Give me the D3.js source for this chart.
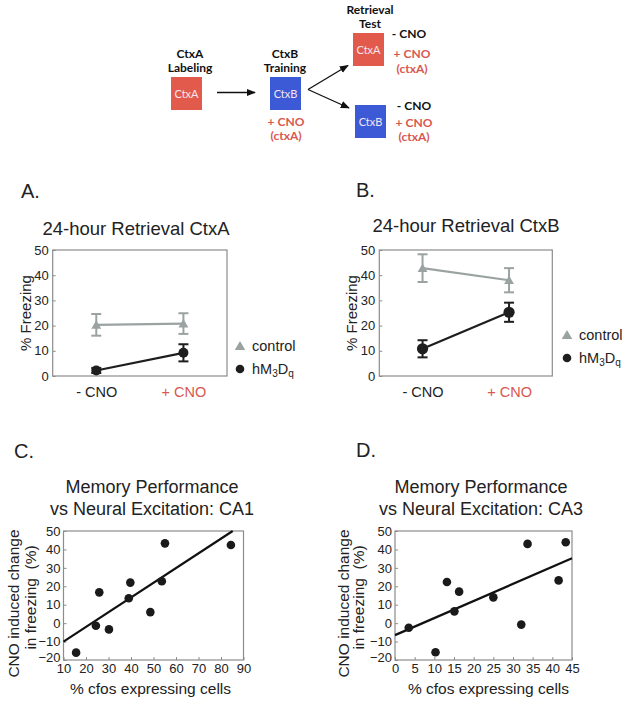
<!DOCTYPE html>
<html>
<head>
<meta charset="utf-8">
<script src="https://cdn.jsdelivr.net/npm/d3@7"></script>
<style>
  html, body { margin: 0; padding: 0; background: #fff; }
  svg { display: block; }
  text { font-family: "Liberation Sans", Arial, sans-serif; }
</style>
</head>
<body>
<svg id="fig" width="625" height="704"></svg>
<script>
// ---------------- DATA ----------------
const conditions = ["- CNO", "+ CNO"];
const freezeTicks = [0, 10, 20, 30, 40, 50];

const ctxAControl = [20.3, 20.8];
const ctxAControlErr = [4.3, 4.1];
const ctxAHm = [2.2, 9.2];
const ctxAHmErr = [1.0, 3.4];

const ctxBControl = [42.8, 38.0];
const ctxBControlErr = [5.5, 4.8];
const ctxBHm = [10.8, 25.3];
const ctxBHmErr = [3.4, 3.8];

const ca1Cfos = [15.6, 24.4, 25.9, 30.2, 39.0, 39.7, 48.6, 53.7, 55.1, 84.4];
const ca1Change = [-16.0, -1.4, 16.7, -3.4, 13.5, 22.0, 6.0, 22.7, 43.3, 42.4];
const ca1FitX = [10, 85.2];
const ca1FitY = [-10.0, 50.0];
const ca1XTicks = [10, 20, 30, 40, 50, 60, 70, 80, 90];

const ca3Cfos = [3.5, 10.3, 13.2, 15.1, 16.3, 25.0, 32.1, 33.7, 41.6, 43.4];
const ca3Change = [-2.5, -15.8, 22.3, 6.4, 17.1, 14.0, -0.8, 43.0, 23.2, 43.9];
const ca3FitX = [0, 45];
const ca3FitY = [-6.5, 35.2];
const ca3XTicks = [0, 5, 10, 15, 20, 25, 30, 35, 40, 45];

const changeTicks = [-20, -10, 0, 10, 20, 30, 40, 50];

// ---------------- STYLE ----------------
const RED = "#e25a4c";
const RED_TXT = "#d9574f";
const BLUE = "#3d5ad6";
const GRAY = "#9aa2a2";
const DARK = "#1e1e1e";
const BOX = "#8c8c8c";

const svg = d3.select("#fig");

// ---------------- SCHEMATIC ----------------
const defs = svg.append("defs");
defs.append("marker").attr("id", "arr").attr("viewBox", "0 0 10 10")
  .attr("refX", 9).attr("refY", 5).attr("markerWidth", 7).attr("markerHeight", 7)
  .attr("orient", "auto-start-reverse")
  .append("path").attr("d", "M0,1 L10,5 L0,9 z").attr("fill", "#111");

const sch = svg.append("g");
const schFont = "Lato, 'Liberation Sans', sans-serif";
function schText(x, y, str, color, bold, size) {
  sch.append("text").attr("x", x).attr("y", y).attr("text-anchor", "middle")
    .style("font-family", schFont)
    .attr("font-size", size || 12).attr("font-weight", bold ? "bold" : "normal")
    .attr("fill", color).text(str);
}
function schBox(x, y, w, h, fill, label) {
  sch.append("rect").attr("x", x).attr("y", y).attr("width", w).attr("height", h).attr("fill", fill);
  schText(x + w / 2, y + h / 2 + 4, label, "#f4e6ee", false, 11);
}
// step 1
schText(190, 58, "CtxA", "#111", true);
schText(190, 72, "Labeling", "#111", true);
schBox(171, 77, 31, 33, RED, "CtxA");
sch.append("line").attr("x1", 217).attr("y1", 92.5).attr("x2", 255).attr("y2", 92.5)
  .attr("stroke", "#111").attr("stroke-width", 1.3).attr("marker-end", "url(#arr)");
// step 2
schText(285, 58, "CtxB", "#111", true);
schText(285, 72, "Training", "#111", true);
schBox(270, 77, 31, 33, BLUE, "CtxB");
schText(286, 126, "+ CNO", RED_TXT, true);
schText(286, 140, "(ctxA)", RED_TXT, true);
sch.append("line").attr("x1", 308).attr("y1", 89.5).attr("x2", 348).attr("y2", 65.5)
  .attr("stroke", "#111").attr("stroke-width", 1.3).attr("marker-end", "url(#arr)");
sch.append("line").attr("x1", 308).attr("y1", 89.5).attr("x2", 349).attr("y2", 108)
  .attr("stroke", "#111").attr("stroke-width", 1.3).attr("marker-end", "url(#arr)");
// step 3
schText(370, 14, "Retrieval", "#111", true);
schText(370, 28, "Test", "#111", true);
schBox(353, 33, 31, 33, RED, "CtxA");
schText(409, 38, "- CNO", "#111", true);
schText(412, 58, "+ CNO", RED_TXT, true);
schText(412, 73, "(ctxA)", RED_TXT, true);
schBox(355, 105, 31, 33, BLUE, "CtxB");
schText(414, 110, "- CNO", "#111", true);
schText(414, 127, "+ CNO", RED_TXT, true);
schText(414, 141, "(ctxA)", RED_TXT, true);

// ---------------- PANEL HELPERS ----------------
function panelLetter(x, y, s) {
  svg.append("text").attr("x", x).attr("y", y).attr("font-size", 20).attr("fill", "#222").text(s);
}

function linePanel(cfg) {
  const g = svg.append("g");
  const x = d3.scalePoint().domain(conditions).range([cfg.x0, cfg.x1]).padding(0.5);
  const y = d3.scaleLinear().domain([0, 50]).range([cfg.yb, cfg.yt]);

  g.append("text").attr("x", cfg.titleX).attr("y", cfg.titleY).attr("text-anchor", "middle")
    .attr("font-size", 18.5).attr("fill", "#222").text(cfg.title);

  g.append("rect").attr("x", cfg.x0).attr("y", cfg.yt).attr("width", cfg.x1 - cfg.x0)
    .attr("height", cfg.yb - cfg.yt).attr("fill", "none").attr("stroke", BOX).attr("stroke-width", 1.2);

  const ya = g.append("g").attr("transform", `translate(${cfg.x0},0)`)
    .call(d3.axisLeft(y).tickValues(freezeTicks).tickSizeInner(-3).tickSizeOuter(0).tickPadding(4));
  ya.select(".domain").remove();
  ya.selectAll(".tick line").attr("stroke", BOX);
  ya.selectAll("text").attr("font-size", 13).attr("fill", "#222")
    .style("font-family", "'Liberation Sans', Arial, sans-serif");

  const xa = g.append("g").attr("transform", `translate(0,${cfg.yb})`)
    .call(d3.axisBottom(x).tickSize(0).tickPadding(11));
  xa.select(".domain").remove();
  xa.selectAll("text").attr("font-size", 14.5)
    .attr("fill", (d, i) => i === 0 ? "#222" : RED_TXT)
    .style("font-family", "'Liberation Sans', Arial, sans-serif");

  g.append("text").attr("transform", `translate(${cfg.ylabX},${(cfg.yt + cfg.yb) / 2}) rotate(-90)`)
    .attr("text-anchor", "middle").attr("font-size", 15).attr("fill", "#222").text("% Freezing");

  function series(vals, errs, color, kind) {
    const pts = conditions.map((c, i) => ({ c, v: vals[i], e: errs[i] }));
    g.append("path").datum(pts)
      .attr("d", d3.line().x(d => x(d.c)).y(d => y(d.v)))
      .attr("fill", "none").attr("stroke", color).attr("stroke-width", 2.2);
    const eb = g.append("g").attr("stroke", color).attr("stroke-width", 2);
    pts.forEach(d => {
      eb.append("line").attr("x1", x(d.c)).attr("x2", x(d.c)).attr("y1", y(d.v - d.e)).attr("y2", y(d.v + d.e));
      eb.append("line").attr("x1", x(d.c) - 5).attr("x2", x(d.c) + 5).attr("y1", y(d.v - d.e)).attr("y2", y(d.v - d.e));
      eb.append("line").attr("x1", x(d.c) - 5).attr("x2", x(d.c) + 5).attr("y1", y(d.v + d.e)).attr("y2", y(d.v + d.e));
    });
    pts.forEach(d => {
      if (kind === "tri") {
        g.append("path").attr("d", d3.symbol(d3.symbolTriangle, 42)())
          .attr("transform", `translate(${x(d.c)},${y(d.v) + 1})`).attr("fill", color);
      } else {
        g.append("circle").attr("cx", x(d.c)).attr("cy", y(d.v)).attr("r", cfg.r).attr("fill", color);
      }
    });
  }
  series(cfg.ctrl, cfg.ctrlErr, GRAY, "tri");
  series(cfg.hm, cfg.hmErr, DARK, "circ");

  // legend
  g.append("path").attr("d", d3.symbol(d3.symbolTriangle, 48)())
    .attr("transform", `translate(${cfg.legX},${cfg.legY + 1})`).attr("fill", GRAY);
  g.append("text").attr("x", cfg.legX + 12).attr("y", cfg.legY + 5).attr("font-size", 14.5)
    .attr("fill", "#222").text("control");
  g.append("circle").attr("cx", cfg.legX).attr("cy", cfg.legY + 23).attr("r", 4.3).attr("fill", DARK);
  const t = g.append("text").attr("x", cfg.legX + 12).attr("y", cfg.legY + 28).attr("font-size", 14.5).attr("fill", "#222");
  t.append("tspan").text("hM");
  t.append("tspan").attr("font-size", 10).attr("dy", 3).text("3");
  t.append("tspan").attr("dy", -3).text("D");
  t.append("tspan").attr("font-size", 10).attr("dy", 3).text("q");
}

function scatterPanel(cfg) {
  const g = svg.append("g");
  const x = d3.scaleLinear().domain(cfg.xDomain).range([cfg.x0, cfg.x1]);
  const y = d3.scaleLinear().domain([-20, 50]).range([cfg.yb, cfg.yt]);

  cfg.title.forEach((s, i) => {
    g.append("text").attr("x", cfg.titleX).attr("y", cfg.titleY + i * 22).attr("text-anchor", "middle")
      .attr("font-size", 18).attr("fill", "#222").text(s);
  });

  g.append("rect").attr("x", cfg.x0).attr("y", cfg.yt).attr("width", cfg.x1 - cfg.x0)
    .attr("height", cfg.yb - cfg.yt).attr("fill", "none").attr("stroke", BOX).attr("stroke-width", 1.2);

  const ya = g.append("g").attr("transform", `translate(${cfg.x0},0)`)
    .call(d3.axisLeft(y).tickValues(changeTicks).tickSizeInner(-3).tickSizeOuter(0).tickPadding(3));
  ya.select(".domain").remove();
  ya.selectAll(".tick line").attr("stroke", BOX);
  ya.selectAll("text").attr("font-size", 13).attr("fill", "#222")
    .attr("dy", d => d === -20 ? "0.1em" : "0.32em")
    .style("font-family", "'Liberation Sans', Arial, sans-serif");

  const xa = g.append("g").attr("transform", `translate(0,${cfg.yb})`)
    .call(d3.axisBottom(x).tickValues(cfg.xTicks).tickSizeInner(-3).tickSizeOuter(0).tickPadding(4));
  xa.select(".domain").remove();
  xa.selectAll(".tick line").attr("stroke", BOX);
  xa.selectAll("text").attr("font-size", 13).attr("fill", "#222")
    .style("font-family", "'Liberation Sans', Arial, sans-serif");

  g.append("text").attr("x", (cfg.x0 + cfg.x1) / 2 + cfg.xlabDx).attr("y", cfg.yb + 34).attr("text-anchor", "middle")
    .attr("font-size", 15.5).attr("fill", "#222").text("% cfos expressing cells");

  const cy = (cfg.yt + cfg.yb) / 2 + 8;
  g.append("text").attr("transform", `translate(${cfg.ylabX},${cy}) rotate(-90)`)
    .attr("text-anchor", "middle").attr("font-size", 15.5).attr("fill", "#222").text("CNO induced change");
  g.append("text").attr("transform", `translate(${cfg.ylabX + cfg.ylabGap},${cy - 6}) rotate(-90)`)
    .attr("text-anchor", "middle").attr("font-size", 15.5).attr("fill", "#222")
    .style("white-space", "pre").attr("xml:space", "preserve").text("in freezing  (%)");

  const fit = cfg.fitX.map((v, i) => [v, cfg.fitY[i]]);
  g.append("path").datum(fit).attr("d", d3.line().x(d => x(d[0])).y(d => y(d[1])))
    .attr("stroke", "#111").attr("stroke-width", 2.2).attr("fill", "none");

  g.selectAll("circle.pt").data(cfg.xs.map((v, i) => [v, cfg.ys[i]])).join("circle")
    .attr("class", "pt").attr("cx", d => x(d[0])).attr("cy", d => y(d[1])).attr("r", 4.3).attr("fill", "#1a1a1a");
}

// ---------------- PANELS ----------------
panelLetter(21, 198, "A.");
linePanel({
  title: "24-hour Retrieval CtxA", titleX: 136, titleY: 235,
  x0: 52.7, x1: 227, yt: 250, yb: 376, ylabX: 31, r: 5,
  ctrl: ctxAControl, ctrlErr: ctxAControlErr, hm: ctxAHm, hmErr: ctxAHmErr,
  legX: 240, legY: 346
});

panelLetter(356, 197, "B.");
linePanel({
  title: "24-hour Retrieval CtxB", titleX: 466, titleY: 232,
  x0: 379.3, x1: 552.3, yt: 250, yb: 376, ylabX: 357, r: 5.6,
  ctrl: ctxBControl, ctrlErr: ctxBControlErr, hm: ctxBHm, hmErr: ctxBHmErr,
  legX: 567, legY: 335
});

panelLetter(14, 458, "C.");
scatterPanel({
  title: ["Memory Performance", "vs Neural Excitation: CA1"], titleX: 152, titleY: 493,
  x0: 63.5, x1: 243.5, yt: 531, yb: 660, xDomain: [10, 90], xTicks: ca1XTicks,
  xs: ca1Cfos, ys: ca1Change, fitX: ca1FitX, fitY: ca1FitY, ylabX: 19, ylabGap: 17, xlabDx: -3
});

panelLetter(356, 457, "D.");
scatterPanel({
  title: ["Memory Performance", "vs Neural Excitation: CA3"], titleX: 481, titleY: 493,
  x0: 395, x1: 572, yt: 531, yb: 660, xDomain: [0, 45], xTicks: ca3XTicks,
  xs: ca3Cfos, ys: ca3Change, fitX: ca3FitX, fitY: ca3FitY, ylabX: 349, ylabGap: 15, xlabDx: 5
});
</script>
</body>
</html>
